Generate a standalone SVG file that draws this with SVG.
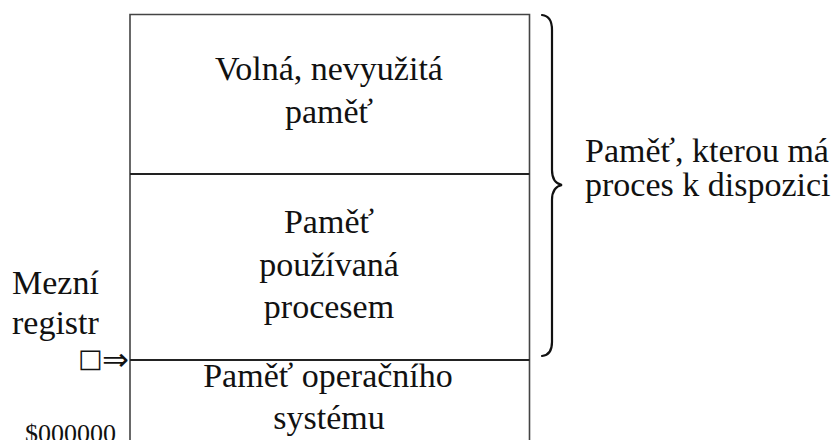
<svg xmlns="http://www.w3.org/2000/svg" width="837" height="440" viewBox="0 0 837 440">
<style>
text{font-family:"Liberation Serif","DejaVu Serif",serif;fill:#111;font-size:34px}
.c{text-anchor:middle}
.box{fill:none;stroke:#444;stroke-width:1.6}
.sep{stroke:#222;stroke-width:1.8}
.brace{fill:none;stroke:#111;stroke-width:2.2;stroke-linecap:round}
.sym{font-family:"DejaVu Sans",sans-serif;font-size:26px}
</style>
<rect width="837" height="440" fill="#fff"/>
<g id="memory-box">
<path class="box" d="M130,450 V14.5 H529.5 V450"/>
</g>
<g id="free-memory">
<text class="c" x="329" y="80">Volná, nevyužitá</text>
<text class="c" x="329" y="123">paměť</text>
</g>
<g id="process-memory">
<line class="sep" x1="130" y1="174" x2="529.5" y2="174"/>
<text class="c" x="329" y="233">Paměť</text>
<text class="c" x="329" y="276">používaná</text>
<text class="c" x="329" y="318">procesem</text>
</g>
<g id="os-memory">
<line class="sep" x1="130" y1="360" x2="529.5" y2="360"/>
<text class="c" x="328" y="387">Paměť operačního</text>
<text class="c" x="329" y="429">systému</text>
</g>
<g id="limit-register">
<text x="12" y="294">Mezní</text>
<text x="12" y="334">registr</text>
</g>
<g id="address">
<text x="25" y="442" style="font-size:26px">$000000</text>
</g>
<g id="connectors">
<text class="sym" x="78" y="367">□</text>
<text class="sym" x="102" y="370" style="font-size:31px" textLength="27" lengthAdjust="spacingAndGlyphs">⇒</text>
<path class="brace" d="M542,15 Q552,16 552,30 V170 Q552,183 562,185 Q552,187 552,200 V342 Q552,355 542,356"/>
</g>
<g id="brace-label">
<text x="585" y="162">Paměť, kterou má</text>
<text x="585" y="196">proces k dispozici</text>
</g>
</svg>
